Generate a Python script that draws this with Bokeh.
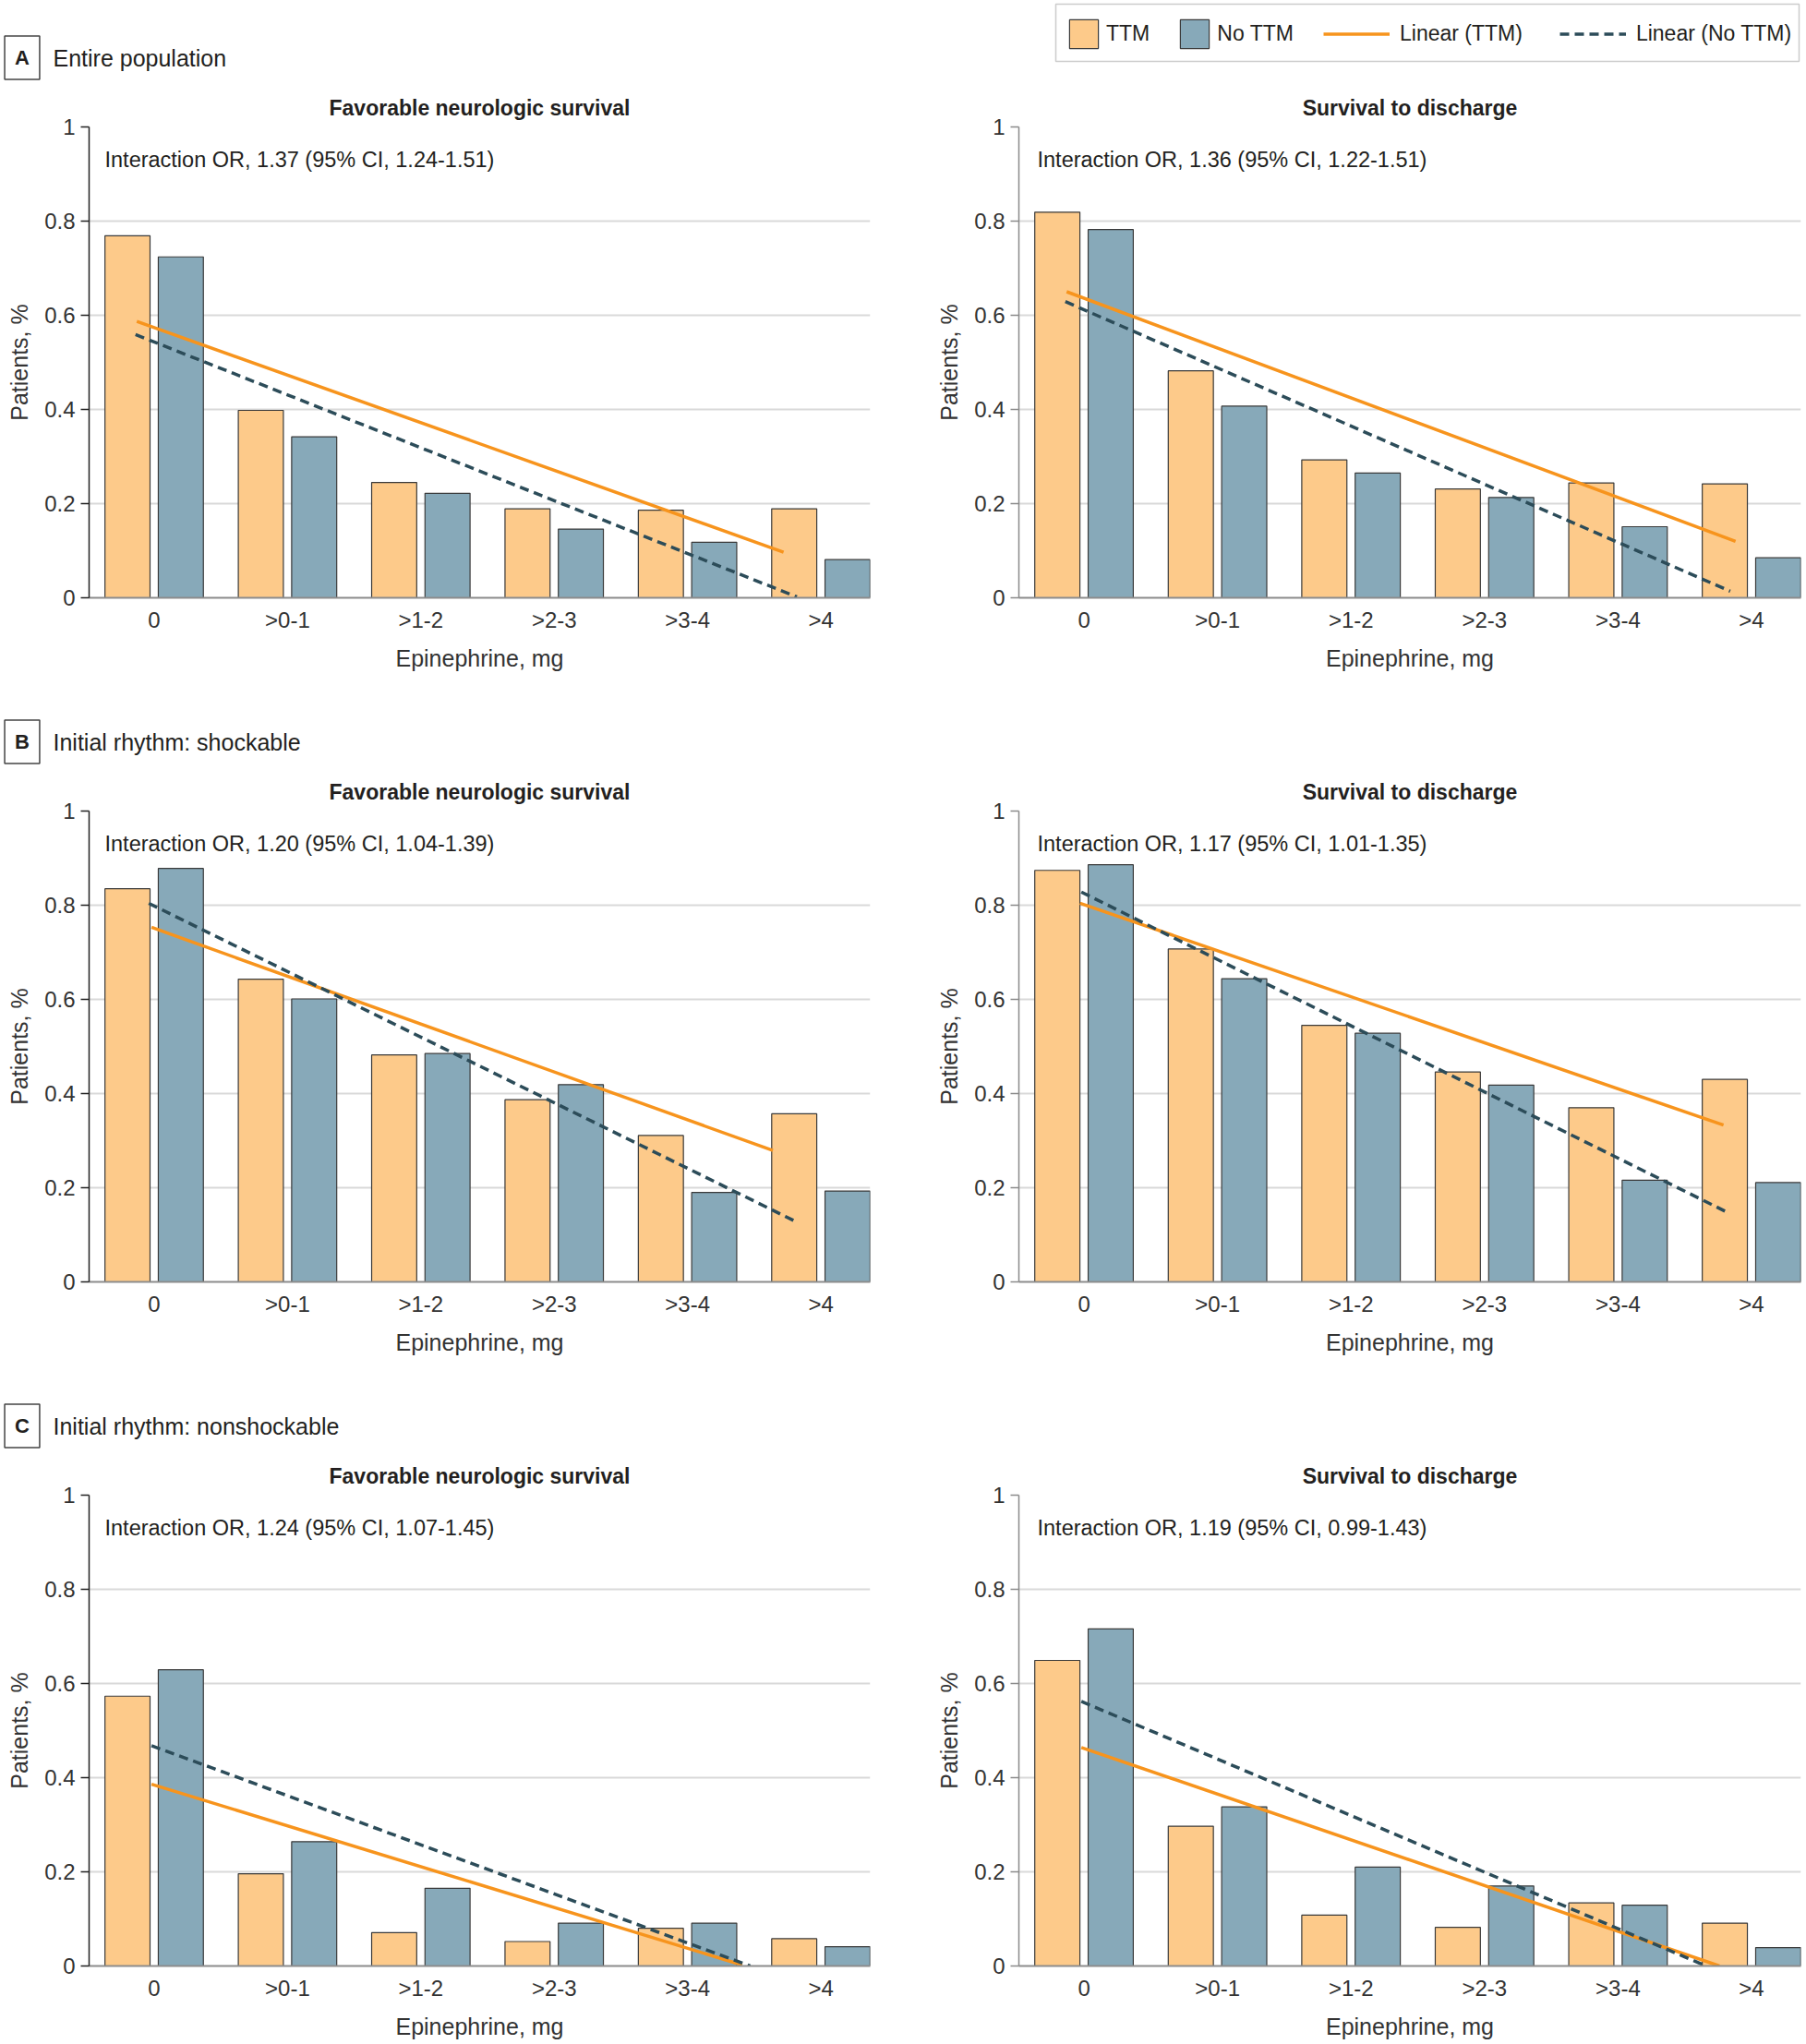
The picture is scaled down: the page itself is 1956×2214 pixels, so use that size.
from bokeh.plotting import figure
from bokeh.models import (Label, Legend, LegendItem, BoxAnnotation, FixedTicker,
                          ColumnDataSource, Range1d)
from bokeh.layouts import column, row
from bokeh.transform import dodge
from bokeh.embed import file_html
from bokeh.resources import INLINE

# ---------------- data ----------------
categories = ["0", ">0-1", ">1-2", ">2-3", ">3-4", ">4"]
panel_letters = ["A", "B", "C"]
panel_names = ["Entire population", "Initial rhythm: shockable", "Initial rhythm: nonshockable"]
outcome_titles = ["Favorable neurologic survival", "Survival to discharge"]
interaction_texts = [
    ["Interaction OR, 1.37 (95% CI, 1.24-1.51)", "Interaction OR, 1.36 (95% CI, 1.22-1.51)"],
    ["Interaction OR, 1.20 (95% CI, 1.04-1.39)", "Interaction OR, 1.17 (95% CI, 1.01-1.35)"],
    ["Interaction OR, 1.24 (95% CI, 1.07-1.45)", "Interaction OR, 1.19 (95% CI, 0.99-1.43)"],
]
legend_labels = ["TTM", "No TTM", "Linear (TTM)", "Linear (No TTM)"]

ttm_A_neuro = [0.769, 0.398, 0.245, 0.189, 0.186, 0.189]
nottm_A_neuro = [0.724, 0.342, 0.222, 0.146, 0.118, 0.081]
ttm_A_surv = [0.819, 0.482, 0.293, 0.231, 0.244, 0.242]
nottm_A_surv = [0.782, 0.407, 0.265, 0.213, 0.151, 0.085]
ttm_B_neuro = [0.835, 0.643, 0.482, 0.387, 0.311, 0.357]
nottm_B_neuro = [0.878, 0.601, 0.485, 0.419, 0.190, 0.193]
ttm_B_surv = [0.874, 0.707, 0.545, 0.446, 0.370, 0.430]
nottm_B_surv = [0.886, 0.644, 0.528, 0.418, 0.216, 0.211]
ttm_C_neuro = [0.573, 0.196, 0.071, 0.052, 0.080, 0.058]
nottm_C_neuro = [0.629, 0.264, 0.165, 0.091, 0.091, 0.041]
ttm_C_surv = [0.649, 0.297, 0.108, 0.082, 0.134, 0.091]
nottm_C_surv = [0.716, 0.338, 0.210, 0.170, 0.129, 0.039]

# linear trend lines, endpoints: (x_start, y_start, x_end, y_end)
fit_ttm_A_neuro = [-0.13, 0.587, 4.72, 0.097]
fit_nottm_A_neuro = [-0.14, 0.559, 4.82, 0.002]
fit_ttm_A_surv = [-0.13, 0.650, 4.88, 0.120]
fit_nottm_A_surv = [-0.14, 0.629, 4.84, 0.014]
fit_ttm_B_neuro = [-0.02, 0.753, 4.64, 0.279]
fit_nottm_B_neuro = [-0.04, 0.804, 4.82, 0.127]
fit_ttm_B_surv = [-0.03, 0.804, 4.79, 0.333]
fit_nottm_B_surv = [-0.02, 0.828, 4.81, 0.149]
fit_ttm_C_neuro = [-0.02, 0.386, 4.41, 0.002]
fit_nottm_C_neuro = [-0.02, 0.468, 4.47, 0.0]
fit_ttm_C_surv = [-0.02, 0.464, 4.76, 0.0]
fit_nottm_C_surv = [-0.02, 0.562, 4.66, 0.0]

y_ticks = [0, 0.2, 0.4, 0.6, 0.8, 1]
y_tick_labels = ["0", "0.2", "0.4", "0.6", "0.8", "1"]

bars = [
    [(ttm_A_neuro, nottm_A_neuro), (ttm_A_surv, nottm_A_surv)],
    [(ttm_B_neuro, nottm_B_neuro), (ttm_B_surv, nottm_B_surv)],
    [(ttm_C_neuro, nottm_C_neuro), (ttm_C_surv, nottm_C_surv)],
]
fits = [
    [(fit_ttm_A_neuro, fit_nottm_A_neuro), (fit_ttm_A_surv, fit_nottm_A_surv)],
    [(fit_ttm_B_neuro, fit_nottm_B_neuro), (fit_ttm_B_surv, fit_nottm_B_surv)],
    [(fit_ttm_C_neuro, fit_nottm_C_neuro), (fit_ttm_C_surv, fit_nottm_C_surv)],
]

# ---------------- style ----------------
FONT = "Liberation Sans"
TXT = "#231f20"
TTM_FILL = "#fdca8a"
NOTTM_FILL = "#87a9b9"
BAR_LINE = "#3a3a3a"
ORANGE = "#f7941d"
DARK = "#2c4c59"
DASH = "10 6"
FRAME_H = 510
TOTAL_W = 1956
HEADER_H = [87, 81, 81]


def make_header(r):
    h = HEADER_H[r]
    p = figure(width=TOTAL_W, height=h, x_range=Range1d(0, TOTAL_W), y_range=Range1d(0, h),
               x_axis_type=None, y_axis_type=None, output_backend="svg",
               toolbar_location=None, min_border=0)
    p.outline_line_color = None
    p.xgrid.visible = False
    p.ygrid.visible = False
    p.add_layout(Label(x=23.5, y=25, text=panel_letters[r], text_font=FONT,
                       text_font_style="bold", text_font_size="22px", text_color=TXT,
                       text_align="center", text_baseline="middle",
                       border_line_color="#444444", border_line_width=1.5, padding=11))
    p.add_layout(Label(x=57, y=25, text=panel_names[r], text_font=FONT,
                       text_font_size="25px", text_color=TXT,
                       text_align="left", text_baseline="middle"))
    if r == 0:
        # legend proxies, placed outside the visible range of this header strip
        proxy = ColumnDataSource(dict(x=[-1000.0], y=[-1000.0]))
        g1 = p.vbar(x="x", top="y", width=1, source=proxy,
                    fill_color=TTM_FILL, line_color=BAR_LINE, line_width=1.2)
        g2 = p.vbar(x="x", top="y", width=1, source=proxy,
                    fill_color=NOTTM_FILL, line_color=BAR_LINE, line_width=1.2)
        g3 = p.line(x="x", y="y", source=proxy, line_color=ORANGE, line_width=3.5)
        g4 = p.line(x="x", y="y", source=proxy, line_color=DARK, line_width=3.5,
                    line_dash=DASH)
        p.add_layout(BoxAnnotation(left=1143, right=1948, top=83, bottom=21,
                                   fill_color=None, line_color="#555555", line_width=1.5))
        common = dict(orientation="horizontal", glyph_height=39, padding=0, margin=0,
                      border_line_color=None, background_fill_alpha=0,
                      label_text_font=FONT, label_text_font_size="23px",
                      label_text_color=TXT)
        leg1 = Legend(items=[LegendItem(label=legend_labels[0], renderers=[g1]),
                             LegendItem(label=legend_labels[1], renderers=[g2])],
                      location=(1154, 31), glyph_width=39, label_standoff=5, spacing=29,
                      **common)
        leg2 = Legend(items=[LegendItem(label=legend_labels[2], renderers=[g3]),
                             LegendItem(label=legend_labels[3], renderers=[g4])],
                      location=(1433, 31), glyph_width=72, label_standoff=11, spacing=40,
                      **common)
        p.add_layout(leg1)
        p.add_layout(leg2)
    return p


def make_fig(r, c):
    left = c == 0
    fw = 846 if left else 847
    p = figure(frame_width=fw, frame_height=FRAME_H,
               x_range=Range1d(-0.488, 5.37), y_range=Range1d(0, 1),
               output_backend="svg", toolbar_location=None,
               min_border_left=96 if left else 125,
               min_border_right=36 if left else 6,
               min_border_top=50,
               min_border_bottom=80 if r == 2 else 100)
    p.outline_line_color = None
    p.background_fill_color = "white"
    p.border_fill_color = "white"

    p.title.text = outcome_titles[c]
    p.title.align = "center"
    p.title.text_font = FONT
    p.title.text_font_style = "bold"
    p.title.text_font_size = "23px"
    p.title.text_color = TXT
    p.title.standoff = 16

    ttm, nottm = bars[r][c]
    src = ColumnDataSource(dict(x=list(range(len(categories))), ttm=ttm, nottm=nottm))
    p.vbar(x=dodge("x", -0.2), top="ttm", width=0.338, source=src,
           fill_color=TTM_FILL, line_color=BAR_LINE, line_width=1.2)
    p.vbar(x=dodge("x", 0.2), top="nottm", width=0.338, source=src,
           fill_color=NOTTM_FILL, line_color=BAR_LINE, line_width=1.2)
    f_ttm, f_no = fits[r][c]
    p.line(x=[f_ttm[0], f_ttm[2]], y=[f_ttm[1], f_ttm[3]],
           line_color=ORANGE, line_width=3.5)
    p.line(x=[f_no[0], f_no[2]], y=[f_no[1], f_no[3]],
           line_color=DARK, line_width=3.5, line_dash=DASH)

    yax = p.yaxis[0]
    yax.ticker = FixedTicker(ticks=y_ticks)
    yax.major_label_overrides = dict(zip(y_ticks, y_tick_labels))
    axis_col = "#222222" if left else "#8a8a8a"
    yax.axis_line_color = axis_col
    yax.axis_line_width = 1.5
    yax.major_tick_line_color = axis_col
    yax.major_tick_line_width = 1.5
    yax.major_tick_out = 9
    yax.major_tick_in = 0
    yax.minor_tick_line_color = None
    yax.major_label_standoff = 6
    yax.major_label_text_font = FONT
    yax.major_label_text_font_size = "24px"
    yax.major_label_text_color = "#333333"
    yax.axis_label = "Patients, %"
    yax.axis_label_text_font = FONT
    yax.axis_label_text_font_size = "25px"
    yax.axis_label_text_font_style = "normal"
    yax.axis_label_text_color = "#333333"
    yax.axis_label_standoff = 10

    xax = p.xaxis[0]
    xax.ticker = FixedTicker(ticks=list(range(len(categories))))
    xax.major_label_overrides = {i: lab for i, lab in enumerate(categories)}
    xax.axis_line_color = "#8c8c8c"
    xax.axis_line_width = 2
    xax.major_tick_line_color = None
    xax.minor_tick_line_color = None
    xax.major_tick_out = 0
    xax.major_tick_in = 0
    xax.major_label_standoff = 10
    xax.major_label_text_font = FONT
    xax.major_label_text_font_size = "24px"
    xax.major_label_text_color = "#333333"
    xax.axis_label = "Epinephrine, mg"
    xax.axis_label_text_font = FONT
    xax.axis_label_text_font_size = "25px"
    xax.axis_label_text_font_style = "normal"
    xax.axis_label_text_color = "#333333"
    xax.axis_label_standoff = 11

    p.xgrid.visible = False
    p.ygrid.ticker = FixedTicker(ticks=y_ticks[1:])
    p.ygrid.grid_line_color = "#d9d9d9"
    p.ygrid.grid_line_width = 2

    p.add_layout(Label(x=17 if left else 20, y=FRAME_H - 35, x_units="screen",
                       y_units="screen", text=interaction_texts[r][c], text_font=FONT,
                       text_font_size="23.5px", text_color=TXT,
                       text_align="left", text_baseline="middle"))
    return p


items = []
for r in range(3):
    items.append(make_header(r))
    items.append(row(make_fig(r, 0), make_fig(r, 1)))
layout = column(*items)

open("out.html", "w").write(file_html(layout, INLINE))
